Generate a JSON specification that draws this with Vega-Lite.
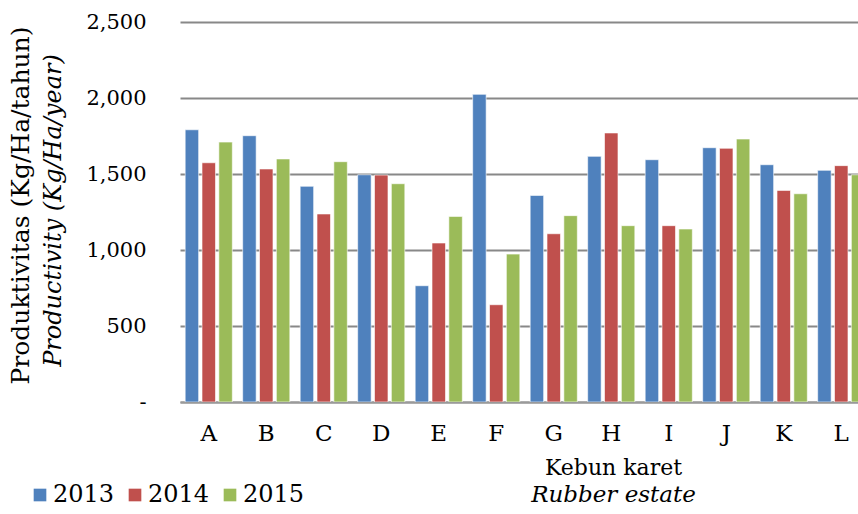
{
  "$schema": "https://vega.github.io/schema/vega-lite/v6.json",
  "width": 678,
  "height": 380,
  "autosize": {"type": "none"},
  "padding": {"left": 180, "top": 22, "right": 0, "bottom": 112},
  "background": "white",
  "config": {"view": {"stroke": null}, "font": "DejaVu Serif"},
  "data": {
    "values": [
      {"estate": "A", "year": "2013", "value": 1791},
      {"estate": "A", "year": "2014", "value": 1574},
      {"estate": "A", "year": "2015", "value": 1710},
      {"estate": "B", "year": "2013", "value": 1752},
      {"estate": "B", "year": "2014", "value": 1533},
      {"estate": "B", "year": "2015", "value": 1599},
      {"estate": "C", "year": "2013", "value": 1419},
      {"estate": "C", "year": "2014", "value": 1237},
      {"estate": "C", "year": "2015", "value": 1581},
      {"estate": "D", "year": "2013", "value": 1495},
      {"estate": "D", "year": "2014", "value": 1493},
      {"estate": "D", "year": "2015", "value": 1436},
      {"estate": "E", "year": "2013", "value": 765},
      {"estate": "E", "year": "2014", "value": 1046},
      {"estate": "E", "year": "2015", "value": 1221},
      {"estate": "F", "year": "2013", "value": 2024},
      {"estate": "F", "year": "2014", "value": 640},
      {"estate": "F", "year": "2015", "value": 973},
      {"estate": "G", "year": "2013", "value": 1359},
      {"estate": "G", "year": "2014", "value": 1107},
      {"estate": "G", "year": "2015", "value": 1226},
      {"estate": "H", "year": "2013", "value": 1616},
      {"estate": "H", "year": "2014", "value": 1770},
      {"estate": "H", "year": "2015", "value": 1160},
      {"estate": "I", "year": "2013", "value": 1594},
      {"estate": "I", "year": "2014", "value": 1160},
      {"estate": "I", "year": "2015", "value": 1138},
      {"estate": "J", "year": "2013", "value": 1673},
      {"estate": "J", "year": "2014", "value": 1669},
      {"estate": "J", "year": "2015", "value": 1730},
      {"estate": "K", "year": "2013", "value": 1561},
      {"estate": "K", "year": "2014", "value": 1392},
      {"estate": "K", "year": "2015", "value": 1370},
      {"estate": "L", "year": "2013", "value": 1524},
      {"estate": "L", "year": "2014", "value": 1555},
      {"estate": "L", "year": "2015", "value": 1495}
    ]
  },
  "layer": [
    {
      "mark": {"type": "bar", "clip": true, "stroke": "white", "strokeWidth": 0.6},
      "encoding": {
        "x": {
          "field": "estate", "type": "nominal", "sort": null,
          "scale": {"range": [0, 690], "paddingInner": 0.18, "paddingOuter": 0.09},
          "axis": {
            "orient": "bottom", "title": "Kebun karet", "labelAngle": 0, "labelFontSize": 23,
            "labelPadding": 20, "ticks": false, "tickSize": 0, "domainColor": "#9a9a9a", "domainWidth": 2,
            "titleFontSize": 22, "titleFontWeight": "normal", "titlePadding": 12, "titleX": 433,
            "labelColor": "black", "titleColor": "black", "grid": false
          }
        },
        "xOffset": {"field": "year", "type": "nominal", "scale": {"paddingInner": 0.2}},
        "y": {
          "field": "value", "type": "quantitative", "scale": {"domain": [0, 2500], "nice": false, "zero": true},
          "axis": {
            "orient": "left", "values": [0, 500, 1000, 1500, 2000, 2500],
            "labelExpr": "datum.value == 0 ? '-' : format(datum.value, ',')",
            "labelFontSize": 21, "labelPadding": 34, "ticks": false, "tickSize": 0, "domain": false,
            "gridColor": "#888888", "gridWidth": 2,
            "title": "Productivity (Kg/Ha/year)", "titleFontStyle": "italic", "titleFontWeight": "normal",
            "titleFontSize": 24, "titlePadding": 20, "titleY": 188, "labelColor": "black", "titleColor": "black"
          }
        },
        "color": {
          "field": "year", "type": "nominal",
          "scale": {"range": ["#4F81BD", "#C0504D", "#9BBB59"]},
          "legend": {
            "title": null, "orient": "none", "legendX": -152, "legendY": 461, "direction": "horizontal",
            "symbolType": "square", "symbolSize": 160, "symbolStrokeWidth": 0, "labelFontSize": 24,
            "labelOffset": 1, "columnPadding": 8, "labelColor": "black"
          }
        }
      }
    },
    {
      "mark": {"type": "bar", "opacity": 0},
      "encoding": {
        "x": {
          "field": "estate", "type": "nominal", "sort": null,
          "axis": {
            "orient": "bottom", "labels": false, "ticks": false, "domain": false, "grid": false,
            "title": "Rubber estate", "titleFontStyle": "italic", "titleFontSize": 23, "titleFontWeight": "normal",
            "titlePadding": 81, "titleX": 433, "titleColor": "black"
          }
        },
        "y": {
          "field": "value", "type": "quantitative", "stack": null,
          "scale": {"domain": [0, 2500], "nice": false, "zero": true},
          "axis": {
            "orient": "left", "labels": false, "ticks": false, "domain": false, "grid": false,
            "title": "Produktivitas (Kg/Ha/tahun)", "titleFontSize": 25, "titleFontWeight": "normal",
            "titlePadding": 147, "titleY": 183, "titleColor": "black"
          }
        }
      }
    }
  ],
  "resolve": {"axis": {"x": "independent", "y": "independent"}}
}
